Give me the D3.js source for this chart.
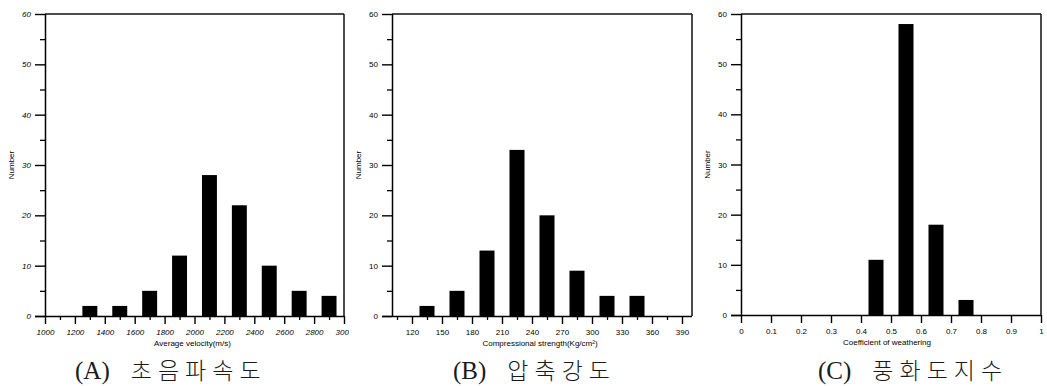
<!DOCTYPE html>
<html>
<head>
<meta charset="utf-8">
<script src="https://cdn.jsdelivr.net/npm/d3@7"></script>
<style>
    body { margin: 0; background: #fff; }
    .tick text { font-family: "Liberation Sans", Arial, sans-serif; }
</style>
</head>
<body>
<div id="chart"></div>
<script>
// panel A: ultrasonic velocity
const velocityBins = [1300, 1500, 1700, 1900, 2100, 2300, 2500, 2700, 2900];
const velocityCounts = [2, 2, 5, 12, 28, 22, 10, 5, 4];
const velocityTicks = [1000, 1200, 1400, 1600, 1800, 2000, 2200, 2400, 2600, 2800, 3000];

// panel B: compressive strength
const strengthBins = [135, 165, 195, 225, 255, 285, 315, 345];
const strengthCounts = [2, 5, 13, 33, 20, 9, 4, 4];
const strengthTicks = [120, 150, 180, 210, 240, 270, 300, 330, 360, 390];

// panel C: weathering coefficient
const weatheringBins = [0.45, 0.55, 0.65, 0.75];
const weatheringCounts = [11, 58, 18, 3];
const weatheringTicks = [0, 0.1, 0.2, 0.3, 0.4, 0.5, 0.6, 0.7, 0.8, 0.9, 1];

const countTicks = [0, 10, 20, 30, 40, 50, 60];

const width = 1047, height = 386;

const svg = d3.select("#chart").append("svg")
    .attr("width", width)
    .attr("height", height);

svg.append("defs").append("clipPath").attr("id", "clipA")
    .append("rect").attr("x", 0).attr("y", 0).attr("width", 349).attr("height", height);

function drawPanel(opt) {
    const g = svg.append("g").attr("clip-path", opt.clip ? `url(#${opt.clip})` : null);

    const x = d3.scaleLinear().domain(opt.domain).range([opt.left, opt.right]);
    const y = d3.scaleLinear().domain([0, 60]).range([opt.bottom, 14]);

    // bars
    g.selectAll(".bar")
        .data(opt.bins)
        .enter().append("rect")
        .attr("class", "bar")
        .attr("fill", "#000")
        .attr("x", (d) => x(d - opt.barHalf))
        .attr("width", (d) => x(d + opt.barHalf) - x(d - opt.barHalf))
        .attr("y", (d, i) => y(opt.counts[i]))
        .attr("height", (d, i) => y(0) - y(opt.counts[i]));

    // frame (top + right)
    g.append("line")
        .attr("x1", opt.left).attr("x2", opt.right)
        .attr("y1", y(60)).attr("y2", y(60))
        .attr("stroke", "#111").attr("stroke-width", 1.5);
    g.append("line")
        .attr("x1", opt.right).attr("x2", opt.right)
        .attr("y1", y(60)).attr("y2", y(0))
        .attr("stroke", "#111").attr("stroke-width", 1.5);

    // minor x ticks
    if (opt.minor) {
        const xMinor = g.append("g").attr("transform", `translate(0,${opt.bottom})`)
            .call(d3.axisBottom(x).tickValues(opt.minor).tickSize(4).tickFormat(""));
        xMinor.select(".domain").remove();
        xMinor.selectAll(".tick line").attr("stroke", "#000").attr("stroke-width", 1.3);
    }

    const xAxis = g.append("g").attr("transform", `translate(0,${opt.bottom})`)
        .call(d3.axisBottom(x).tickValues(opt.ticks).tickSize(8).tickPadding(5)
            .tickFormat(opt.format || ((d) => d)));
    xAxis.select(".domain").attr("stroke", "#000").attr("stroke-width", 1.5)
        .attr("d", `M${opt.left - 10},0.5H${opt.right}`);
    xAxis.selectAll(".tick line").attr("stroke", "#000").attr("stroke-width", 1.4);
    xAxis.selectAll(".tick text")
        .attr("font-size", "8px")
        .attr("fill", "#000")
        .attr("font-style", opt.italic ? "italic" : "normal");

    // minor y ticks
    const yMinor = g.append("g").attr("transform", `translate(${opt.left},0)`)
        .call(d3.axisLeft(y).tickValues([5, 15, 25, 35, 45, 55]).tickSize(5).tickFormat(""));
    yMinor.select(".domain").remove();
    yMinor.selectAll(".tick line").attr("stroke", "#000").attr("stroke-width", 1.3);

    const yAxis = g.append("g").attr("transform", `translate(${opt.left},0)`)
        .call(d3.axisLeft(y).tickValues(countTicks).tickSize(10).tickPadding(4));
    yAxis.select(".domain").attr("stroke", "#000").attr("stroke-width", 1.5)
        .attr("d", `M0.5,${y(60)}V${y(0)}`);
    yAxis.selectAll(".tick line").attr("stroke", "#000").attr("stroke-width", 1.4);
    yAxis.selectAll(".tick text")
        .attr("font-size", "8px")
        .attr("fill", "#000")
        .attr("font-style", opt.italic ? "italic" : "normal");

    // axis titles
    g.append("text")
        .attr("x", (opt.left + opt.right) / 2 + opt.titleShift)
        .attr("y", opt.bottom + 30)
        .attr("text-anchor", "middle")
        .attr("font-family", "'Liberation Sans', Arial, sans-serif")
        .attr("font-size", "8px")
        .attr("fill", "#000")
        .text(opt.title);

    g.append("text")
        .attr("transform", `translate(${opt.left - 31},${y(30)}) rotate(-90)`)
        .attr("text-anchor", "middle")
        .attr("font-family", "'Liberation Sans', Arial, sans-serif")
        .attr("font-size", "8px")
        .attr("fill", "#000")
        .text("Number");

    // caption: per-glyph dx spreads the hangul like the scan
    const cap = svg.append("text")
        .attr("x", opt.capX)
        .attr("y", 379)
        .attr("fill", "#1a1a1a");
    cap.append("tspan")
        .attr("font-family", "'Liberation Serif', 'DejaVu Serif', serif")
        .attr("font-size", "25px")
        .text(opt.capLetter);
    cap.append("tspan")
        .attr("dx", [21].concat(d3.range(opt.capText.length - 1).map(() => 6)).join(" "))
        .attr("font-family", "'Noto Sans CJK KR', sans-serif")
        .attr("font-size", "23px")
        .attr("font-weight", 300)
        .text(opt.capText);
}

drawPanel({
    left: 45, right: 344, bottom: 316,
    domain: [1000, 3000],
    bins: velocityBins, counts: velocityCounts, barHalf: 50,
    ticks: velocityTicks,
    minor: d3.range(1100, 3000, 200),
    italic: true,
    clip: "clipA",
    title: "Average velocity(m/s)", titleShift: -2,
    capX: 75, capLetter: "(A)", capText: "초음파속도"
});

drawPanel({
    left: 392, right: 692, bottom: 316,
    domain: [100, 400],
    bins: strengthBins, counts: strengthCounts, barHalf: 7.5,
    ticks: strengthTicks,
    minor: d3.range(105, 400, 30),
    title: "Compressional strength(Kg/cm²)", titleShift: -2,
    capX: 453, capLetter: "(B)", capText: "압축강도"
});

drawPanel({
    left: 741, right: 1041, bottom: 315,
    domain: [0, 1],
    bins: weatheringBins, counts: weatheringCounts, barHalf: 0.025,
    ticks: weatheringTicks,
    minor: null,
    title: "Coefficient of weathering", titleShift: -4,
    capX: 818, capLetter: "(C)", capText: "풍화도지수"
});
</script>
</body>
</html>
